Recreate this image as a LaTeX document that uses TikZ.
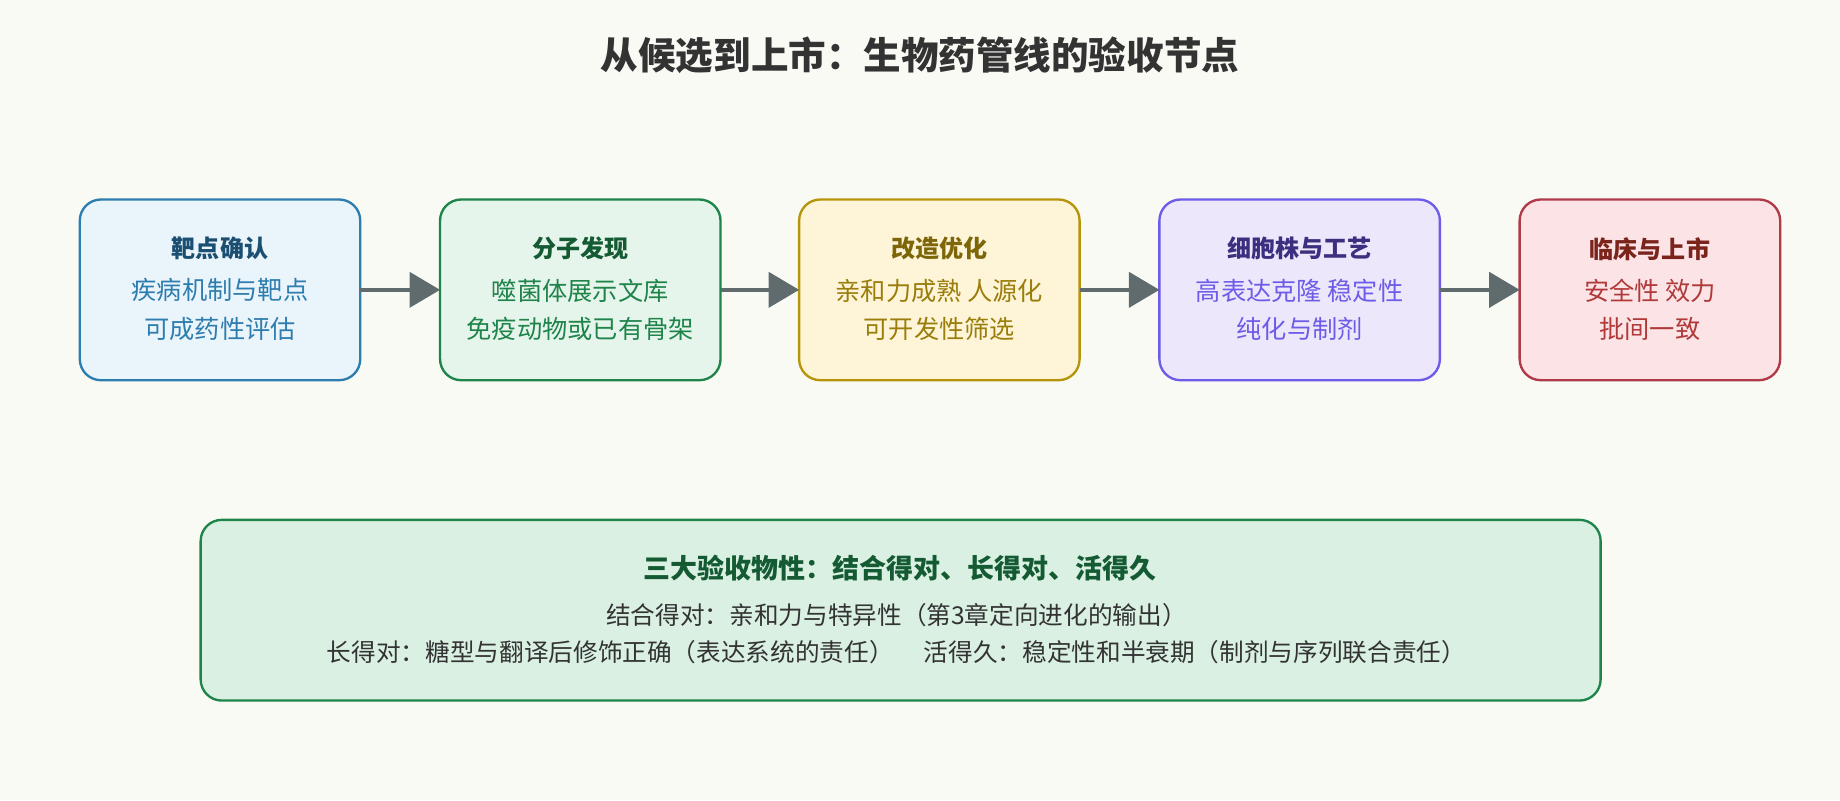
\documentclass[tikz,border=0pt]{standalone}
\usepackage{fontspec}
\setmainfont{Noto Sans CJK SC}
\usetikzlibrary{arrows.meta}
\definecolor{bg}{HTML}{FAFAF5}
\definecolor{arr}{HTML}{5F6B6D}
\tikzset{x=1pt,y=-1pt,
 stage/.style={draw=#1, line width=2pt, rounded corners=18pt},
 conn/.style={draw=arr, line width=3pt, -{Triangle[length=26pt,width=30pt]}},
 hd/.style={font=\fontsize{20.5}{24}\selectfont\bfseries},
 bd/.style={font=\fontsize{21.5}{33}\selectfont, align=center},
 bd2/.style={font=\fontsize{21}{31}\selectfont, align=center}}
\begin{document}
\begin{tikzpicture}
\fill[bg] (0,0) rectangle (1568,682);
\node[font=\fontsize{32}{36}\selectfont\bfseries, text=black!80] (title) at (784,47) {从候选到上市：生物药管线的验收节点};
\foreach \n/\xa/\xb/\fc/\sc/\tc/\bc/\h/\ba/\bb in {
 a/68/307/EAF4FB/2E7DAF/1B4F72/2E7DAF/靶点确认/疾病机制与靶点/可成药性评估,
 b/375/614/E6F5EC/1E8449/145A32/1E8449/分子发现/噬菌体展示文库/免疫动物或已有骨架,
 c/681/920/FEF5D8/B7950B/7D6608/9A7D0A/改造优化/亲和力成熟 人源化/可开发性筛选,
 d/988/1227/EDE7FB/6C5CE7/3C2F80/6C5CE7/细胞株与工艺/高表达克隆 稳定性/纯化与制剂,
 e/1295/1517/FBE3E6/B03A48/7B241C/B03A3A/临床与上市/安全性 效力/批间一致}{
 \definecolor{f\n}{HTML}{\fc}\definecolor{s\n}{HTML}{\sc}\definecolor{t\n}{HTML}{\tc}\definecolor{b\n}{HTML}{\bc}
 \draw[stage=s\n, fill=f\n] (\xa,170) rectangle (\xb,324);
 \coordinate (\n) at ({(\xa+\xb)/2},247);
 \coordinate (\n L) at (\xa,247); \coordinate (\n R) at (\xb,247);
 \node[hd, text=t\n] (\n h) at ({(\xa+\xb)/2},212) {\h};
 \node[bd, text=b\n] (\n b) at ({(\xa+\xb)/2},264) {\ba\\\bb};
}
\draw[conn] (aR) -- (bL);
\draw[conn] (bR) -- (cL);
\draw[conn] (cR) -- (dL);
\draw[conn] (dR) -- (eL);
\definecolor{gf}{HTML}{D9F0E3}\definecolor{gs}{HTML}{1E8449}\definecolor{gt}{HTML}{145A32}
\draw[stage=gs, fill=gf] (171,443) rectangle (1364,597);
\node[font=\fontsize{23}{26}\selectfont\bfseries, text=gt] (sum) at (767,484) {三大验收物性：结合得对、长得对、活得久};
\node[bd2, text=black!80] (sumb) at (764,540) {结合得对：亲和力与特异性（第3章定向进化的输出）\\长得对：糖型与翻译后修饰正确（表达系统的责任）\quad\ 活得久：稳定性和半衰期（制剂与序列联合责任）};
\end{tikzpicture}
\end{document}
